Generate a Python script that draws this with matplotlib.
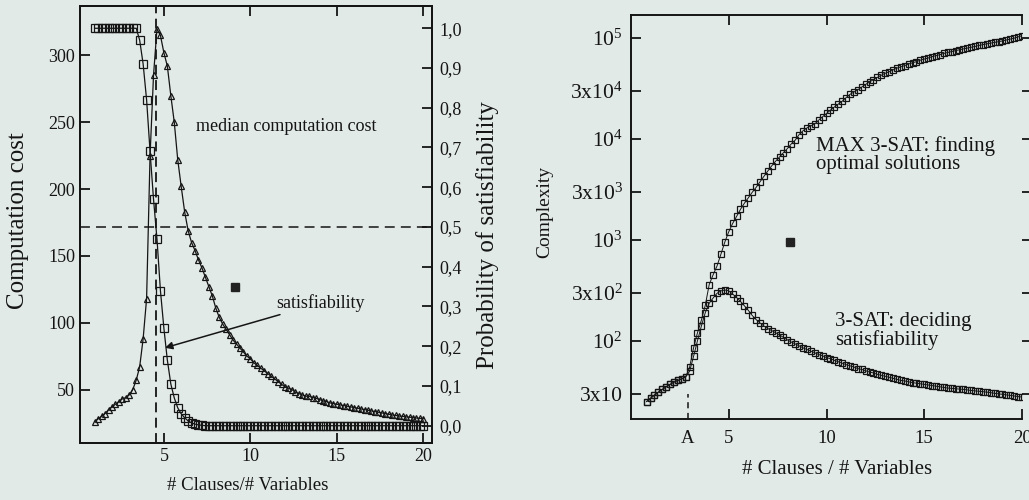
import numpy as np
from matplotlib import pyplot as plt

plt.rcParams['font.family'] = ['Liberation Serif', 'DejaVu Serif']
plt.rcParams['mathtext.fontset'] = 'custom'
plt.rcParams['mathtext.rm'] = 'Liberation Serif'

BG = '#e2eae8'
INK = '#151515'

# ---- left panel: 3-SAT median cost and probability of satisfiability
ratio_left = np.round(np.arange(1.0, 20.01, 0.2), 1)
cost_median = [26, 28, 30, 32, 35,
               37, 39, 41, 43, 44,
               46, 50, 57, 67, 88,
               118, 225, 285, 320, 315,
               302, 292, 270, 250, 222,
               202, 183, 169, 160, 154,
               147, 141, 134, 127, 120,
               111, 104, 99, 95, 91,
               87, 84, 81, 78, 75,
               73, 70, 68, 66, 64,
               62, 60, 58, 56, 54,
               52, 51, 50, 48, 47,
               46, 45, 45, 44, 43.5,
               42.5, 41.5, 41, 40, 39.5,
               39, 38.5, 38, 37.5, 37,
               36.5, 36, 35.5, 35, 34.5,
               34, 33.5, 33, 32.5, 32,
               31.5, 31, 30.6, 30.2, 29.9,
               29.6, 29.3, 29, 28.7, 28.4,
               28.2]
prob_sat = ([1, 1, 1, 1, 1,
             1, 1, 1, 1, 1,
             1, 1, 1, 0.97, 0.91,
             0.82, 0.69, 0.57, 0.47, 0.34,
             0.245, 0.165, 0.105, 0.07, 0.045,
             0.03, 0.02, 0.012, 0.007, 0.004,
             0.002, 0.001, 0, 0, 0]
            + [0] * 60 + [0])
threshold = 4.55

cost_ticks = [50, 100, 150, 200, 250, 300]
prob_ticks = [0.0, 0.1, 0.2, 0.3, 0.4, 0.5, 0.6, 0.7, 0.8, 0.9, 1.0]
prob_labels = ['0,0', '0,1', '0,2', '0,3', '0,4', '0,5', '0,6', '0,7', '0,8', '0,9', '1,0']
ratio_ticks = [5, 10, 15, 20]

# ---- right panel: MAX 3-SAT vs 3-SAT complexity
ratio_right = np.round(np.arange(0.8, 20.01, 0.2), 1)
max3sat = [25,
           27, 29, 31, 33, 35,
           37, 39, 40.5, 42, 44,
           55, 85, 120, 160, 225,
           360, 450, 550, 720, 950,
           1200, 1450, 1700, 2000, 2300,
           2600, 2950, 3300, 3750, 4250,
           4800, 5400, 6000, 6600, 7300,
           8000, 8900, 9700, 11000, 12000,
           12800, 13400, 14000, 15300, 16500,
           17800, 19200, 20600, 22000, 23500,
           25500, 27500, 29000, 30500, 32500,
           34500, 36500, 38500, 40500, 42500,
           44500, 46000, 48000, 50000, 51500,
           53000, 55000, 56500, 58000, 60000,
           61500, 63000, 65000, 66500, 68000,
           70000, 71500, 73000, 74500, 76000,
           77500, 79000, 80500, 82000, 84000,
           85500, 87000, 88500, 90000, 91500,
           93000, 95000, 97000, 99000, 102000,
           105000]
sat3 = [25,
        27, 29, 31, 33, 35,
        37, 39, 40.5, 42, 44,
        50, 70, 100, 140, 190,
        235, 265, 295, 312, 318,
        312, 290, 268, 245, 222,
        200, 178, 162, 150, 140,
        132, 126, 120, 114, 108,
        102, 97, 93, 89, 85,
        82, 79, 76, 73, 71,
        68, 66.5, 64, 62, 60,
        58, 56.5, 55, 53, 52,
        50.5, 49, 48, 46.5, 45.5,
        44.5, 43.5, 42.5, 41.5, 40.5,
        40, 39.2, 38.5, 38, 37.5,
        37, 36.5, 36, 35.5, 35,
        34.5, 34, 33.8, 33.5, 33.2,
        33, 32.6, 32.2, 31.9, 31.6,
        31.3, 31, 30.6, 30.2, 29.8,
        29.5, 29.1, 28.8, 28.4, 28,
        27.7]
point_A = 2.9
cx_ticks = [30, 100, 300, 1000, 3000, 1e4, 3e4, 1e5]
cx_labels = ['3x10', r'$\mathregular{10^{2}}$', r'$\mathregular{3x10^{2}}$',
             r'$\mathregular{10^{3}}$', r'$\mathregular{3x10^{3}}$',
             r'$\mathregular{10^{4}}$', r'$\mathregular{3x10^{4}}$',
             r'$\mathregular{10^{5}}$']

W, H = 1029, 500
fig = plt.figure(figsize=(W / 100, H / 100), dpi=100, facecolor=BG)


def box(l, t, r, b):
    return [l / W, 1 - b / H, (r - l) / W, (b - t) / H]


def style(a):
    a.set_facecolor(BG)
    for s in a.spines.values():
        s.set_linewidth(1.4)
        s.set_color(INK)


# left panel
ax = fig.add_axes(box(80, 6, 432, 443))
style(ax)
ax2 = ax.twinx()
style(ax2)
ax.plot(ratio_left, cost_median, '-', color=INK, lw=0.9, marker='^', ms=5,
        mfc='none', mec=INK, mew=0.9)
ax2.plot(ratio_left, prob_sat, '-', color=INK, lw=0.9, marker='s', ms=5.5,
         mfc='none', mec=INK, mew=0.9)
ax.axvline(threshold, color=INK, lw=1.3, dashes=(5.5, 3))
ax2.axhline(0.5, color=INK, lw=1.1, dashes=(6.5, 4))
ax.set_xlim(0.15, 20.5)
ax.set_ylim(10, 337)
ax2.set_ylim(-0.0435, 1.056)
ax.set_xticks(ratio_ticks)
ax.set_yticks(cost_ticks)
ax2.set_yticks(prob_ticks, prob_labels)
ax.tick_params(axis='both', direction='in', length=7, width=1.3, colors=INK,
               labelsize=13, top=True)
ax.tick_params(axis='x', pad=3.5)
ax.tick_params(axis='y', pad=3.5)
ax2.tick_params(axis='y', direction='in', length=7, width=1.3, colors=INK,
                labelsize=13, pad=5.5)
ax2.text(12.1, 0.752, 'median computation cost', fontsize=13, color=INK,
         ha='center', va='center')
ax2.annotate('satisfiability', xy=(5.06, 0.196), xytext=(11.5, 0.309),
             fontsize=13, color=INK, ha='left', va='center',
             arrowprops=dict(arrowstyle='-|>', color=INK, lw=1.1,
                             mutation_scale=11, shrinkA=0, shrinkB=0))
ax2.plot([9.1], [0.35], 's', color='#222222', ms=5.5)

fig.text(18 / W, 1 - 221 / H, 'Computation cost', rotation=90, fontsize=18,
         ha='center', va='center', color=INK)
fig.text(488 / W, 1 - 235 / H, 'Probability of satisfiability', rotation=90,
         fontsize=18, ha='center', va='center', color=INK)
fig.text(248 / W, 1 - 485 / H, '# Clauses/# Variables', fontsize=13.5,
         ha='center', va='center', color=INK)

# right panel
bx = fig.add_axes(box(631, 15, 1022, 419))
style(bx)
bx.spines['right'].set_visible(False)
bx.set_yscale('log')
bx.plot(ratio_right, max3sat, '-', color=INK, lw=0.7, marker='s', ms=5,
        mfc='none', mec=INK, mew=0.9)
bx.plot(ratio_right, sat3, '-', color=INK, lw=0.7, marker='s', ms=4,
        mfc='none', mec=INK, mew=0.9)
bx.plot([point_A, point_A], [16.8, 30], color=INK, lw=1.1, dashes=(4, 3))
bx.set_xlim(0, 20)
bx.set_ylim(16.8, 1.68e5)
bx.set_xticks(ratio_ticks)
bx.set_xticks([point_A], ['A'], minor=True)
bx.set_yticks(cx_ticks, cx_labels)
bx.yaxis.set_minor_locator(plt.NullLocator())
bx.tick_params(axis='x', which='major', direction='in', length=7, width=1.3,
               colors=INK, labelsize=13.5, top=True, pad=8)
bx.tick_params(axis='x', which='minor', direction='in', length=0,
               colors=INK, labelsize=13.5, top=False, pad=8)
bx.tick_params(axis='y', which='major', direction='in', length=7, width=1.3,
               colors=INK, labelsize=15.5, pad=6, right=True)
bx.text(9.45, 6900, 'MAX 3-SAT: finding\noptimal solutions', fontsize=15,
        color=INK, ha='left', va='center', linespacing=0.9)
bx.text(10.45, 125, '3-SAT: deciding\nsatisfiability', fontsize=15,
        color=INK, ha='left', va='center', linespacing=0.9)
bx.plot([8.13], [950], 's', color='#222222', ms=5.5)

fig.text(545 / W, 1 - 212 / H, 'Complexity', rotation=90, fontsize=14,
         ha='center', va='center', color=INK)
fig.text(837 / W, 1 - 470 / H, '# Clauses / # Variables', fontsize=15,
         ha='center', va='center', color=INK)

# right-hand ticks of the log panel point outward (no right spine drawn)
for t in bx.yaxis.get_major_ticks():
    t.tick2line.set_marker(1)
    t.tick2line.set_markersize(7)

fig.savefig('out.png', dpi=100, facecolor=BG)
